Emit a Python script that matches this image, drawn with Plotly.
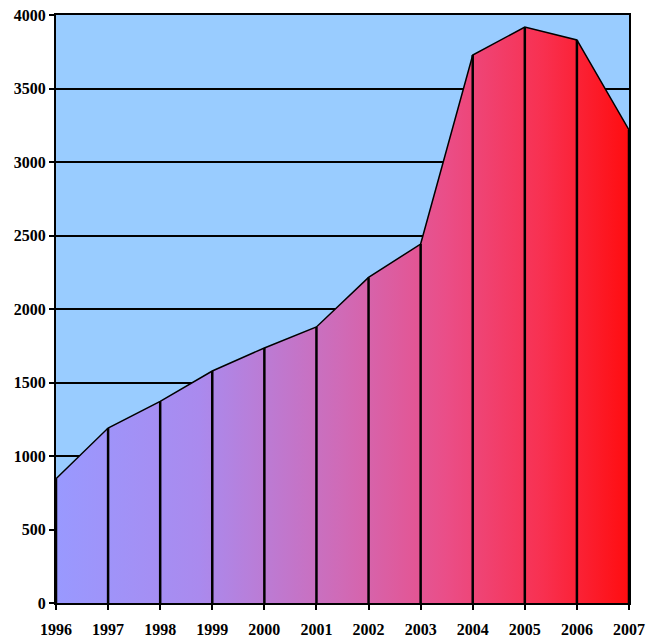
import plotly.graph_objects as go

years = [1996, 1997, 1998, 1999, 2000, 2001, 2002, 2003, 2004, 2005, 2006, 2007]
values = [845, 1190, 1372, 1578, 1735, 1878, 2215, 2442, 3728, 3918, 3830, 3218]
y_ticks = [0, 500, 1000, 1500, 2000, 2500, 3000, 3500, 4000]

fig = go.Figure()

fig.add_trace(go.Scatter(
    x=years, y=values, mode="lines", fill="tozeroy",
    line=dict(color="black", width=1.5),
    fillgradient=dict(type="horizontal", colorscale=[
        [0, "#9999FF"], [0.25, "#AA8AEE"], [0.5, "#D06AB6"],
        [0.68, "#EA4E88"], [0.85, "#F83050"], [1, "#FF0D10"]]),
    hoverinfo="x+y", showlegend=False))

vx, vy = [], []
for x, v in zip(years, values):
    vx += [x, x, None]
    vy += [0, v, None]
fig.add_trace(go.Scatter(x=vx, y=vy, mode="lines",
                         line=dict(color="black", width=2.5),
                         hoverinfo="skip", showlegend=False))

font = dict(family="Liberation Serif", size=16, color="black")
fig.update_layout(
    width=658, height=644,
    margin=dict(l=56, r=29, t=15, b=41, autoexpand=False),
    paper_bgcolor="white", plot_bgcolor="#99CCFF",
    font=font, showlegend=False,
    xaxis=dict(range=[1996, 2007], tickvals=years,
               ticktext=[f"<b>{y}</b>" for y in years],
               showgrid=False, zeroline=False, automargin=False,
               ticklabelstandoff=6,
               showline=True, linecolor="black", linewidth=2, mirror=True,
               ticks="outside", ticklen=5, tickwidth=2, tickcolor="black"),
    yaxis=dict(range=[0, 4000], tickvals=y_ticks,
               ticktext=[f"<b>{t}</b>" for t in y_ticks],
               showgrid=True, gridcolor="black", gridwidth=2,
               zeroline=False, automargin=False,
               showline=True, linecolor="black", linewidth=2, mirror=True,
               ticks="outside", ticklen=5, tickwidth=2, tickcolor="black"),
)

fig.write_html("out.html", config={"displayModeBar": False},
               post_script="document.body.style.margin='0';document.body.style.overflow='hidden';")
